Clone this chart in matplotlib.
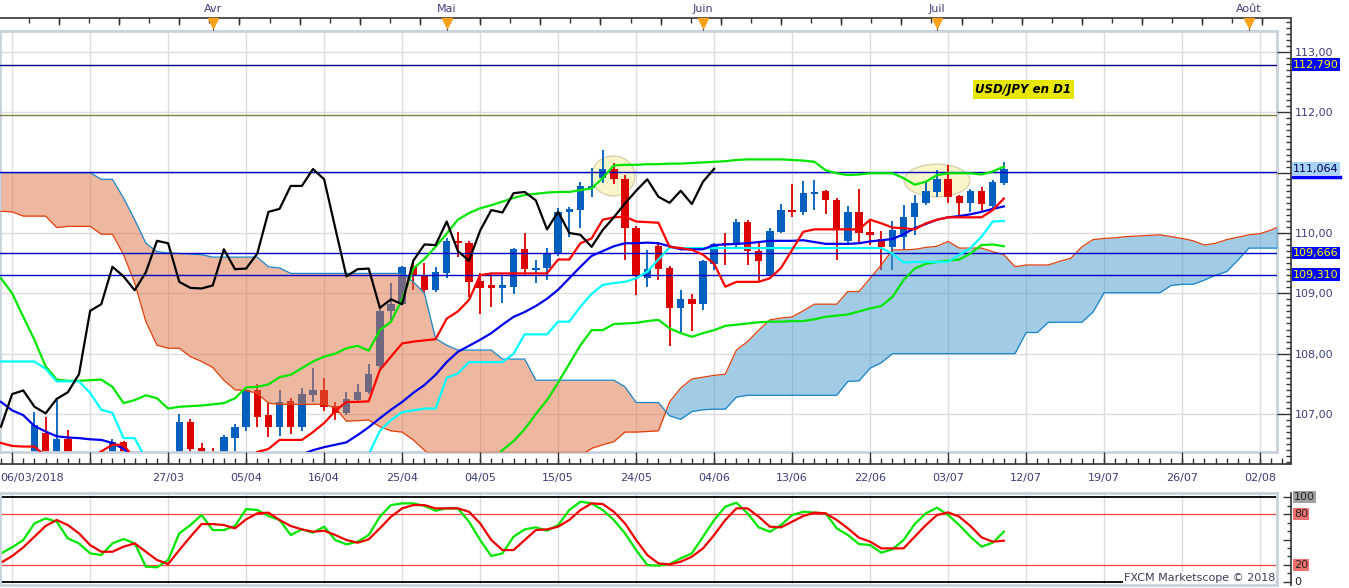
import numpy as np
import matplotlib
matplotlib.use("Agg")
import matplotlib.pyplot as plt
from matplotlib.patches import Ellipse

nan = np.nan

# ---- daily candles USD/JPY, bar 0 = 06/03/2018, bar 90 = 10/07/2018 ----
opens = [105.60, 106.00, 106.10, 106.20, 106.68, 106.30, 106.59, 106.30, 106.00, 106.10,
         106.20, 106.54, 106.00, 105.30, 104.70, 105.40, 105.40, 106.86, 106.44, 106.30,
         105.90, 106.61, 106.78, 107.39, 106.98, 106.78, 107.21, 106.79, 107.31, 107.39,
         107.13, 107.01, 107.23, 107.36, 107.80, 108.70, 108.82, 109.44, 109.30, 109.05,
         109.34, 109.87, 109.83, 109.21, 109.13, 109.08, 109.11, 109.73, 109.39, 109.42,
         109.65, 110.34, 110.38, 110.75, 110.91, 111.06, 110.90, 110.08, 109.25, 109.78,
         109.42, 108.76, 108.90, 108.82, 109.48, 109.83, 109.80, 110.19, 109.70, 109.30,
         110.02, 110.38, 110.34, 110.64, 110.70, 110.55, 109.86, 110.35, 110.02, 109.90,
         109.77, 109.94, 110.26, 110.49, 110.68, 110.89, 110.61, 110.50, 110.70, 110.44,
         110.83]
highs = [106.10, 106.30, 106.30, 107.04, 106.95, 107.23, 106.73, 106.35, 106.30, 106.30,
         106.59, 106.56, 106.10, 105.50, 105.60, 105.90, 107.00, 106.92, 106.52, 106.44,
         106.65, 106.83, 107.43, 107.50, 107.19, 107.39, 107.26, 107.43, 107.76, 107.60,
         107.20, 107.36, 107.50, 107.83, 108.76, 109.17, 109.46, 109.52, 109.51, 109.44,
         109.92, 110.02, 109.87, 109.34, 109.34, 109.34, 109.75, 110.00, 109.56, 109.75,
         110.41, 110.43, 110.85, 111.07, 111.38, 111.16, 110.96, 110.12, 109.72, 109.83,
         109.45, 109.06, 108.99, 109.56, 109.84, 110.00, 110.24, 110.22, 109.87, 110.09,
         110.48, 110.82, 110.87, 110.88, 110.72, 110.58, 110.44, 110.73, 110.22, 110.04,
         110.20, 110.46, 110.63, 110.84, 111.04, 111.12, 110.63, 110.73, 110.77, 110.88,
         111.18]
lows = [105.50, 105.60, 105.90, 106.00, 106.20, 106.20, 106.10, 105.90, 105.60, 105.90,
        106.00, 105.90, 105.20, 104.60, 104.70, 105.20, 105.30, 106.25, 105.90, 105.70,
        105.80, 106.30, 106.71, 106.79, 106.62, 106.64, 106.67, 106.72, 107.20, 107.05,
        106.90, 106.98, 107.20, 107.33, 107.75, 108.53, 108.80, 109.05, 109.00, 109.03,
        109.25, 109.61, 108.94, 108.66, 108.77, 108.84, 108.99, 109.30, 109.17, 109.22,
        109.62, 109.93, 110.08, 110.60, 110.83, 110.81, 109.56, 108.97, 109.11, 109.22,
        108.12, 108.34, 108.38, 108.72, 109.39, 109.47, 109.75, 109.47, 109.19, 109.28,
        110.00, 110.27, 110.30, 110.38, 110.31, 109.56, 109.82, 109.83, 109.80, 109.38,
        109.38, 109.72, 109.97, 110.46, 110.60, 110.50, 110.28, 110.34, 110.37, 110.40,
        110.80]
closes = [106.00, 106.10, 106.20, 106.82, 106.35, 106.59, 106.30, 106.00, 106.10, 106.20,
          106.54, 106.00, 105.30, 104.70, 105.40, 105.45, 106.86, 106.42, 106.30, 105.90,
          106.62, 106.79, 107.39, 106.95, 106.78, 107.20, 106.79, 107.33, 107.39, 107.12,
          107.01, 107.25, 107.36, 107.66, 108.71, 108.82, 109.44, 109.28, 109.05, 109.35,
          109.87, 109.83, 109.19, 109.09, 109.08, 109.13, 109.73, 109.40, 109.41, 109.66,
          110.35, 110.40, 110.78, 110.78, 111.06, 110.89, 110.08, 109.28, 109.40, 109.41,
          108.76, 108.90, 108.82, 109.54, 109.81, 109.80, 110.19, 109.70, 109.54, 110.04,
          110.38, 110.34, 110.66, 110.68, 110.54, 110.06, 110.35, 110.00, 109.97, 109.77,
          110.05, 110.26, 110.49, 110.70, 110.89, 110.60, 110.50, 110.70, 110.48, 110.85,
          111.064]

# ---- indicator lines (nan where far below the frame) ----
tenkan = [106.52, 106.47, 106.46, 106.46, 106.30, nan, nan, nan, 106.25, 106.38,
          106.49, 106.49, 106.25, nan, nan, nan, nan, nan, nan, nan,
          nan, nan, 106.25, 106.37, 106.42, 106.57, 106.57, 106.57, 106.70, 106.85,
          107.05, 107.20, 107.20, 107.21, 107.73, 107.95, 108.17, 108.20, 108.22, 108.24,
          108.58, 108.70, 108.89, 109.30, 109.33, 109.33, 109.33, 109.33, 109.33, 109.33,
          109.56, 109.56, 109.83, 109.91, 110.22, 110.26, 110.27, 110.19, 110.18, 110.17,
          109.77, 109.75, 109.72, 109.64, 109.49, 109.11, 109.19, 109.19, 109.19, 109.25,
          109.42, 109.72, 110.02, 110.06, 110.06, 110.06, 110.06, 110.06, 110.22, 110.16,
          110.09, 110.08, 110.06, 110.16, 110.22, 110.26, 110.26, 110.26, 110.26, 110.38,
          110.57]
blue_ma = [107.20, 107.06, 106.98, 106.80, 106.71, 106.63, 106.61, 106.60, 106.58, 106.57,
           106.52, 106.42, 106.30, nan, nan, nan, nan, nan, nan, nan,
           nan, nan, nan, nan, nan, nan, nan, 106.33, 106.40, 106.45,
           106.49, 106.53, 106.65, 106.78, 106.93, 107.07, 107.20, 107.35, 107.48, 107.65,
           107.86, 108.03, 108.13, 108.23, 108.34, 108.48, 108.61, 108.69, 108.79, 108.91,
           109.06, 109.25, 109.44, 109.62, 109.70, 109.78, 109.83, 109.83, 109.84, 109.83,
           109.78, 109.73, 109.73, 109.73, 109.80, 109.81, 109.82, 109.83, 109.85, 109.87,
           109.87, 109.87, 109.88, 109.85, 109.82, 109.82, 109.82, 109.83, 109.86, 109.88,
           109.90, 109.98, 110.08, 110.15, 110.22, 110.26, 110.28, 110.31, 110.35, 110.40,
           110.44]
kijun = [107.87, 107.87, 107.87, 107.87, 107.75, 107.54, 107.54, 107.54, 107.35, 107.07,
         107.02, 106.60, 106.60, 106.25, nan, nan, nan, nan, nan, nan,
         nan, nan, nan, nan, nan, nan, nan, nan, nan, nan,
         nan, nan, nan, 106.33, 106.72, 106.90, 107.03, 107.06, 107.09, 107.09,
         107.60, 107.67, 107.86, 107.86, 107.86, 107.86, 108.00, 108.32, 108.32, 108.32,
         108.53, 108.53, 108.78, 108.99, 109.14, 109.17, 109.19, 109.25, 109.36, 109.56,
         109.76, 109.75, 109.75, 109.75, 109.75, 109.75, 109.75, 109.75, 109.75, 109.75,
         109.75, 109.75, 109.75, 109.75, 109.75, 109.75, 109.75, 109.75, 109.75, 109.75,
         109.66, 109.51, 109.52, 109.52, 109.52, 109.52, 109.64, 109.75, 109.94, 110.19,
         110.20]
band_up = [109.25, 109.00, 108.61, 108.23, 107.79, 107.57, 107.55, 107.55, 107.56, 107.57,
           107.45, 107.18, 107.23, 107.31, 107.26, 107.09, 107.12, 107.13, 107.14, 107.16,
           107.18, 107.26, 107.44, 107.45, 107.49, 107.61, 107.65, 107.76, 107.87, 107.95,
           108.00, 108.09, 108.13, 108.05, 108.39, 108.53, 108.90, 109.41, 109.57, 109.77,
           109.99, 110.22, 110.33, 110.41, 110.46, 110.52, 110.58, 110.63, 110.65, 110.67,
           110.68, 110.68, 110.71, 110.74, 110.91, 111.12, 111.13, 111.13, 111.14, 111.14,
           111.15, 111.15, 111.16, 111.17, 111.18, 111.19, 111.21, 111.22, 111.22, 111.22,
           111.22, 111.21, 111.20, 111.18, 111.04, 110.99, 110.96, 110.97, 110.99, 110.99,
           110.99, 110.91, 110.80, 110.85, 110.96, 110.99, 110.99, 110.99, 110.97, 111.02,
           111.10]
band_low = [nan] * 44 + [
    106.20, 106.40, 106.55, 106.75, 107.00, 107.23,
    107.52, 107.83, 108.14, 108.39, 108.39, 108.49, 108.50, 108.51, 108.54, 108.56,
    108.42, 108.34, 108.28, 108.34, 108.39, 108.46, 108.48, 108.50, 108.52, 108.53,
    108.53, 108.54, 108.54, 108.57, 108.61, 108.63, 108.65, 108.70, 108.75, 108.79,
    108.94, 109.22, 109.41, 109.49, 109.52, 109.54, 109.56, 109.66, 109.80, 109.81,
    109.78]

# cloud, 26 bars ahead of price (bar 116 is past the right edge)
span_a = [110.36, 110.35, 110.28, 110.28, 110.28, 110.09, 110.11, 110.11, 110.11, 109.98,
          109.98, 109.64, 109.17, 108.53, 108.14, 108.09, 108.09, 107.95, 107.87, 107.77,
          107.56, 107.40, 107.39, 107.34, 107.18, 107.16, 107.16, 107.16, 107.16, 107.16,
          107.10, 106.88, 106.89, 106.90, 106.79, 106.72, 106.70, 106.57, 106.40, 106.20,
          106.05, 105.95, 105.90, 105.85, 105.85, 105.85, 105.85, 105.85, 105.85, 105.90,
          106.00, 106.15, 106.30, 106.43, 106.49, 106.54, 106.70, 106.70, 106.71, 106.72,
          107.20, 107.43, 107.58, 107.61, 107.64, 107.66, 108.06, 108.20, 108.39, 108.56,
          108.59, 108.61, 108.71, 108.82, 108.82, 108.82, 109.03, 109.03, 109.25, 109.47,
          109.72, 109.72, 109.73, 109.76, 109.78, 109.86, 109.75, 109.75, 109.75, 109.69,
          109.64, 109.44, 109.47, 109.47, 109.47, 109.53, 109.58, 109.77, 109.89, 109.91,
          109.92, 109.94, 109.95, 109.96, 109.97, 109.94, 109.91, 109.87, 109.80, 109.83,
          109.89, 109.93, 109.97, 109.99, 110.05, 110.13, 110.20]
span_b = [111.00] * 9 + [
    110.89, 110.89, 110.58, 110.22, 109.83, 109.69, 109.67, 109.66, 109.65, 109.64,
    109.60, 109.60, 109.60, 109.60, 109.60, 109.44, 109.42] + [109.33] * 11 + [
    109.19, 109.00, 108.25, 108.14, 108.06, 108.06, 108.06, 108.06, 107.91, 107.91,
    107.91] + [107.56] * 8 + [
    107.45, 107.19, 107.19, 107.19, 106.97, 106.91, 107.04, 107.07, 107.08, 107.08,
    107.28] + [107.31] * 9 + [107.54, 107.55, 107.76, 107.85] + [108.00] * 12 + [
    108.35, 108.35, 108.52, 108.52, 108.52, 108.52, 108.69] + [109.01] * 6 + [
    109.13, 109.15, 109.15, 109.22, 109.30, 109.36, 109.55] + [109.75] * 5

# horizontal levels drawn by hand
levels = [112.79, 111.96, 111.01, 109.666, 109.31]
level_colors = ['#000080', '#7f7f3f', '#0000c8', '#0000c8', '#0000c8']

# stochastic
stoch_k = [33.6, 40.7, 49.4, 69.1, 75.0, 71.1, 51.3, 45.4, 33.6, 31.6,
           45.4, 50.6, 45.4, 17.8, 17.0, 25.7, 57.3, 67.1, 79.0, 61.2,
           61.2, 66.0, 86.1, 84.9, 77.8, 73.1, 55.3, 62.0, 58.1, 65.2,
           49.4, 44.2, 47.4, 55.3, 77.0, 90.8, 92.8, 92.8, 89.7, 84.1,
           86.9, 86.9, 71.1, 49.4, 30.4, 33.6, 53.3, 62.0, 64.4, 60.4,
           67.1, 84.9, 94.8, 92.8, 84.9, 73.1, 57.3, 37.5, 19.7, 19.0,
           20.9, 27.6, 33.6, 53.3, 73.1, 88.9, 93.6, 81.0, 64.4, 59.2,
           67.1, 79.0, 82.9, 81.8, 81.0, 63.2, 55.3, 44.6, 43.4, 34.4,
           38.3, 49.4, 68.3, 81.0, 87.7, 79.0, 67.1, 53.3, 41.5, 46.2, 59.2]
stoch_d = [22.5, 30.4, 40.7, 53.3, 66.0, 73.1, 67.1, 57.3, 43.4, 35.5,
           35.5, 41.5, 45.4, 35.5, 25.7, 20.9, 37.5, 53.3, 68.3, 68.3,
           67.1, 63.2, 73.9, 81.0, 81.8, 73.1, 66.0, 62.0, 59.2, 60.4,
           55.3, 49.4, 46.2, 50.2, 63.2, 77.0, 86.9, 90.8, 90.8, 86.9,
           86.9, 86.9, 82.9, 69.1, 49.4, 37.5, 37.5, 49.4, 61.2, 62.0,
           65.2, 73.1, 84.9, 92.8, 92.0, 82.9, 69.1, 49.4, 31.6, 21.7,
           20.5, 23.7, 29.6, 39.5, 55.3, 73.1, 86.9, 86.9, 77.0, 65.2,
           64.4, 71.1, 77.8, 81.8, 81.0, 73.1, 63.2, 52.1, 47.4, 39.5,
           39.5, 39.5, 53.3, 67.1, 79.0, 82.1, 77.0, 66.0, 52.5, 47.4, 48.6]

# axis labels
date_pos = [15, 22, 29, 36, 43, 50, 57, 64, 71, 78, 85, 92, 99, 106, 113]
date_labels = ['27/03', '05/04', '16/04', '25/04', '04/05', '15/05', '24/05', '04/06',
               '13/06', '22/06', '03/07', '12/07', '19/07', '26/07', '02/08']
month_pos = [19, 40, 63, 84, 112]
month_labels = ['Avr', 'Mai', 'Juin', 'Juil', 'Août']
price_labels = [107, 108, 109, 110, 111, 112, 113]
tag_prices = [112.79, 111.064, 109.666, 109.31]
tag_texts = ['112,790', '111,064', '109,666', '109,310']

# annotations: yellow ellipses (centre bar, centre price, width bars, height price)
ellipses = [(54.95, 110.945, 3.9, 0.66), (84.0, 110.87, 5.9, 0.54)]

W, H = 1349, 588
PPB = 78 / 7.0          # pixels per bar
XL = -1 / PPB           # bar index at the left edge
TXT = '#3c3c78'
GRID = '#dddddd'
BORDER = '#c9d1dd'


def box(x0, y0, x1, y1):
    # pixel rectangle (origin top-left) -> figure fraction
    return [x0 / W, 1 - y1 / H, (x1 - x0) / W, (y1 - y0) / H]


def price_at(py):
    return 113 - (py - 52) / 60.33


def stoch_at(py):
    return (581.7 - py) / 0.844


fig = plt.figure(figsize=(W / 100, H / 100), dpi=100)
fig.patch.set_facecolor('white')

grid_x = np.arange(1, 115, 7)

# ---------------- main price panel ----------------
ax = fig.add_axes(box(0, 31, 1277, 452))
ax.set_xlim(XL, XL + 1277 / PPB)
ax.set_ylim(price_at(452), price_at(31))
ax.set_xticks([])
ax.set_yticks([])
for s in ax.spines.values():
    s.set_color(BORDER)
    s.set_linewidth(2)

for gx in grid_x:
    ax.axvline(gx, color=GRID, lw=1, zorder=0)
for gy in price_labels:
    ax.axhline(gy, color=GRID, lw=1, zorder=0)

for cx, cy, ew, eh in ellipses:
    ax.add_patch(Ellipse((cx, cy), ew, eh, fc='#fbf6c4', ec='#d4cda4', lw=1, alpha=0.9, zorder=1))

o, h, l, c = map(np.array, (opens, highs, lows, closes))
idx = np.arange(len(c))
col = np.where(c >= o, '#005fbf', '#dd0000')
ax.vlines(idx, l, h, colors=col, lw=1.3, zorder=2)
ax.bar(idx, np.maximum(np.abs(c - o), 0.025), bottom=np.minimum(o, c), width=0.66,
       color=col, lw=0, zorder=2)

# ichimoku cloud
sa, sb = np.array(span_a), np.array(span_b)
ci = np.arange(len(sa))
ax.fill_between(ci, sa, sb, where=sa >= sb, interpolate=True, color='#479bcd', alpha=0.5, lw=0, zorder=3)
ax.fill_between(ci, sa, sb, where=sa < sb, interpolate=True, color='#df7143', alpha=0.5, lw=0, zorder=3)
ax.plot(ci, sa, color='#e0400a', lw=0.9, zorder=3.5)
ax.plot(ci, sb, color='#1a86c8', lw=0.9, zorder=3.5)

for lv, lc in zip(levels, level_colors):
    ax.axhline(lv, color=lc, lw=1, zorder=4)

ax.plot(idx, band_up, color='#00e600', lw=1.6, zorder=5)
ax.plot(idx, band_low, color='#00e600', lw=1.6, zorder=5)
ax.plot(idx, kijun, color='#00ffff', lw=1.6, zorder=5)
ax.plot(idx, blue_ma, color='#0000ee', lw=1.6, zorder=5)
ax.plot(idx, tenkan, color='#ff0000', lw=1.6, zorder=5)
chikou = closes[26:]     # close shifted 26 bars back
ax.plot(np.arange(len(chikou)), chikou, color='black', lw=1.6, zorder=6)

ax.text(91.76, 112.38, 'USD/JPY en D1', ha='center', va='center', fontsize=8.5,
        fontweight='bold', fontstyle='italic', color='black', zorder=7,
        bbox=dict(boxstyle='square,pad=0.25', fc='#e6e600', ec='none'))

# right price scale (the 111,00 label sits under the 111,064 tag)
axr = fig.add_axes(box(1277, 18, 1291, 464))
axr.set_ylim(price_at(464), price_at(18))
axr.patch.set_alpha(0)
for s in ('left', 'top', 'bottom'):
    axr.spines[s].set_visible(False)
axr.spines['right'].set_color('#333333')
axr.spines['right'].set_linewidth(1.2)
axr.set_xticks([])
axr.yaxis.tick_right()
axr.set_yticks(price_labels)
axr.set_yticklabels(['' if v == 111 else '%d,00' % v for v in price_labels])
axr.set_yticks(np.arange(106.2, 113.55, 0.1), minor=True)
axr.tick_params(axis='y', which='major', direction='in', length=10, width=1, color='#333333',
                labelsize=8, labelcolor=TXT, pad=2.5)
axr.tick_params(axis='y', which='minor', direction='in', length=3.5, width=1, color='#333333')

tag_style = {'112,790': ('#0000ff', '#ffff00'), '111,064': ('#a6d4f2', '#000060'),
             '109,666': ('#0000ff', '#ffff00'), '109,310': ('#0000ff', '#ffff00')}
for tp, tt in zip(tag_prices, tag_texts):
    fc, tc = tag_style[tt]
    axr.text(1 + 2 / 14, tp, tt, transform=axr.get_yaxis_transform(), ha='left', va='center',
             fontsize=8, color=tc, clip_on=False, zorder=10,
             bbox=dict(boxstyle='square,pad=0.12', fc=fc, ec='none'))
axr.plot([1 + 1.5 / 14, 1 + 49 / 14], [111.064 - 0.14] * 2, transform=axr.get_yaxis_transform(),
         color='#0000ff', lw=2.5, clip_on=False, zorder=10)

# ---------------- top month strip ----------------
axt = fig.add_axes(box(0, 0, 1291, 31))
axt.set_xlim(XL, XL + 1291 / PPB)
axt.set_ylim(31, 0)
axt.axis('off')
axt.axhline(18, color='#333333', lw=1.2)
top_ticks = np.arange(2.5, 115.5, 2.7)
axt.vlines(top_ticks, 18, 23, color='#333333', lw=1)
axt.vlines(top_ticks[1::2], 18, 25, color='#333333', lw=1)
for mp, ml in zip(month_pos, month_labels):
    axt.text(mp, 9, ml, ha='center', va='center', fontsize=8, color=TXT)
    axt.vlines(mp, 24, 31, color='#555555', lw=0.8)
    axt.plot(mp, 22.5, marker='v', ms=7, color='#f7a11a', mec='#f7a11a')

# ---------------- date axis ----------------
axb = fig.add_axes(box(0, 452, 1291, 492))
axb.set_xlim(XL, XL + 1291 / PPB)
axb.set_ylim(40, 0)
axb.axis('off')
axb.axhline(12, color='#333333', lw=1.2)
axb.vlines(np.arange(0, 116), 6, 12, color='#333333', lw=1)
axb.vlines(grid_x, 0, 12, color='#333333', lw=1)
axb.text(XL, 26, '06/03/2018', ha='left', va='center', fontsize=8, color=TXT)
for dp, dl in zip(date_pos, date_labels):
    axb.text(dp, 26, dl, ha='center', va='center', fontsize=8, color=TXT)

# ---------------- stochastic panel ----------------
axs = fig.add_axes(box(0, 493, 1277, 585))
axs.set_xlim(XL, XL + 1277 / PPB)
axs.set_ylim(stoch_at(585), stoch_at(493))
axs.set_xticks([])
axs.set_yticks([])
for s in axs.spines.values():
    s.set_color(BORDER)
    s.set_linewidth(2)
for gx in grid_x:
    axs.axvline(gx, color=GRID, lw=1, zorder=0)
axs.axhline(100, color='black', lw=1.3)
axs.axhline(0, color='black', lw=1.3)
axs.axhline(80, color='#ff4040', lw=0.9)
axs.axhline(20, color='#ff4040', lw=0.9)
axs.plot(idx, stoch_k, color='#00e600', lw=1.6)
axs.plot(idx, stoch_d, color='#ee0000', lw=1.6)

axsr = fig.add_axes(box(1277, 493, 1291, 585))
axsr.set_ylim(stoch_at(585), stoch_at(493))
axsr.patch.set_alpha(0)
for s in ('left', 'top', 'bottom'):
    axsr.spines[s].set_visible(False)
axsr.spines['right'].set_color('#333333')
axsr.spines['right'].set_linewidth(1.2)
axsr.set_xticks([])
axsr.yaxis.tick_right()
axsr.set_yticks([0, 20, 50, 80, 100])
axsr.set_yticklabels([])
axsr.set_yticks(np.arange(0, 101, 10), minor=True)
axsr.tick_params(axis='y', which='major', direction='in', length=6, width=1, color='#333333')
axsr.tick_params(axis='y', which='minor', direction='in', length=3, width=1, color='#333333')
for sv, sfc in zip([100, 80, 20, 0], ['#a0a0a0', '#f07070', '#f07070', 'white']):
    axsr.text(1 + 3 / 14, sv, str(sv), transform=axsr.get_yaxis_transform(), ha='left',
              va='center', fontsize=8, color='#222222', clip_on=False,
              bbox=dict(boxstyle='square,pad=0.1', fc=sfc, ec='none'))

fig.text(1275 / W, 1 - 578 / H, 'FXCM Marketscope © 2018', ha='right', va='center',
         fontsize=8, color='#3c3c5a', bbox=dict(boxstyle='square,pad=0.1', fc='white', ec='none'))

fig.savefig('out.png', dpi=100)
